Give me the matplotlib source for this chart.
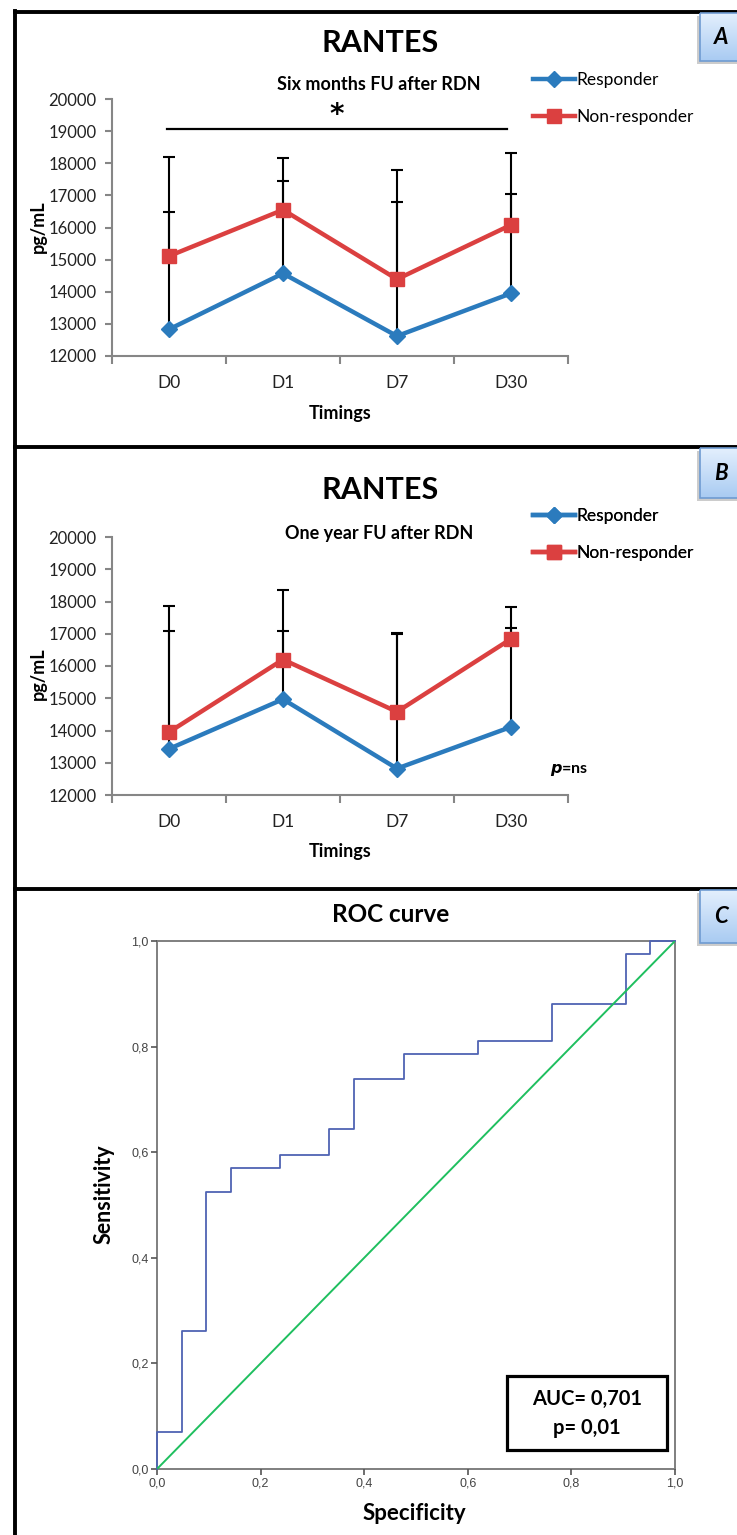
import matplotlib.pyplot as plt
import numpy as np
from matplotlib.patches import Rectangle
from matplotlib.colors import LinearSegmentedColormap
from matplotlib.ticker import FuncFormatter

plt.rcParams['font.family'] = ['Lato', 'DejaVu Sans']

# RANTES (pg/mL) at each sampling time, mean and upper SD
timings = ['D0', 'D1', 'D7', 'D30']

resp_6m = [12830, 14570, 12620, 13950]
resp_6m_sd = [3650, 2880, 4170, 3100]
nonresp_6m = [15110, 16550, 14390, 16080]
nonresp_6m_sd = [3090, 1620, 3400, 2250]

resp_1y = [13430, 14970, 12820, 14110]
resp_1y_sd = [3660, 2120, 4170, 3060]
nonresp_1y = [13950, 16200, 14580, 16840]
nonresp_1y_sd = [3900, 2170, 2430, 980]

# ROC curve corners (1 - specificity, sensitivity)
roc_fpr = [0.0, 0.0, 0.048, 0.095, 0.143, 0.238, 0.333, 0.381, 0.476, 0.619, 0.762, 0.905, 0.952, 1.0]
roc_tpr = [0.0, 0.071, 0.262, 0.524, 0.571, 0.595, 0.643, 0.738, 0.786, 0.810, 0.881, 0.976, 1.0, 1.0]
auc_label = 'AUC= 0,701'
p_label = 'p= 0,01'

W, H = 737, 1535
BLUE = '#2b7bbd'
RED = '#db4040'
GREY = '#868686'

fig = plt.figure(figsize=(W / 100, H / 100), dpi=100)


def px_axes(x0, y0, x1, y1):
    return fig.add_axes([x0 / W, 1 - y1 / H, (x1 - x0) / W, (y1 - y0) / H])


def rantes_panel(ax, resp, resp_sd, nonresp, nonresp_sd):
    x = np.arange(len(timings))
    for y, sd in [(resp, resp_sd), (nonresp, nonresp_sd)]:
        top = np.array(y) + np.array(sd)
        ax.vlines(x, y, top, color='black', lw=1.5, zorder=2)
        ax.plot(x, top, ls='none', marker='_', ms=9, mew=1.5, color='black', zorder=2)
    l1, = ax.plot(x, resp, color=BLUE, lw=3.2, marker='D', ms=8.5, zorder=3, label='Responder')
    l2, = ax.plot(x, nonresp, color=RED, lw=3.2, marker='s', ms=10, zorder=4, label='Non-responder')
    ax.set_xlim(-0.5, 3.5)
    ax.set_ylim(12000, 20000)
    ax.set_yticks(np.arange(12000, 20001, 1000))
    ax.set_xticks([-0.5, 0.5, 1.5, 2.5, 3.5])
    ax.set_xticklabels([])
    ax.set_xticks(x, minor=True)
    ax.set_xticklabels(timings, minor=True)
    ax.tick_params(axis='x', which='major', length=6, width=1.5, color=GREY)
    ax.tick_params(axis='x', which='minor', length=0, pad=14, labelsize=12.5, labelcolor='#222222')
    ax.tick_params(axis='y', length=5, width=1.5, color=GREY, labelsize=12, labelcolor='#222222', pad=6)
    for s in ['top', 'right']:
        ax.spines[s].set_visible(False)
    for s in ['left', 'bottom']:
        ax.spines[s].set_color(GREY)
        ax.spines[s].set_linewidth(1.5)
    ax.set_facecolor('none')
    return [l1, l2]


# Panel A: six months follow-up
axA = px_axes(112, 99, 568, 356)
handlesA = rantes_panel(axA, resp_6m, resp_6m_sd, nonresp_6m, nonresp_6m_sd)
axA.plot([-0.02, 2.965], [19070, 19070], color='black', lw=1.6)
axA.text(1.47, 19500, '*', ha='center', va='center', fontsize=20, fontweight='bold',
         family='DejaVu Sans')

# Panel B: one year follow-up
axB = px_axes(112, 537, 568, 795)
handlesB = rantes_panel(axB, resp_1y, resp_1y_sd, nonresp_1y, nonresp_1y_sd)

# Panel C: ROC curve
axC = px_axes(157, 941, 675, 1469)
axC.plot(roc_fpr, roc_tpr, drawstyle='steps-post', color='#4f63b3', lw=1.3, clip_on=False)
axC.plot([0, 1], [0, 1], color='#1fbf5f', lw=1.4)
axC.set_xlim(0, 1)
axC.set_ylim(0, 1)
ticks = np.arange(0, 1.01, 0.2)
axC.set_xticks(ticks)
axC.set_yticks(ticks)
comma = FuncFormatter(lambda v, p: f'{v:.1f}'.replace('.', ','))
axC.xaxis.set_major_formatter(comma)
axC.yaxis.set_major_formatter(comma)
axC.tick_params(length=4, width=1.2, color='#555555', labelsize=9, labelcolor='#444444', pad=2)
for lab in axC.get_xticklabels() + axC.get_yticklabels():
    lab.set_family('Liberation Sans')
for s in axC.spines.values():
    s.set_color('#7f7f7f')
    s.set_linewidth(1.4)
    s.set_zorder(1)

# Overlay in pixel units for frames, titles and labels
ov = fig.add_axes([0, 0, 1, 1], zorder=10)
ov.set_xlim(0, W)
ov.set_ylim(H, 0)
ov.axis('off')

# panel frames
ov.plot([15, 15], [11, H], color='black', lw=2.8, solid_capstyle='projecting')
for yb in [12, 447, 889]:
    ov.plot([15, W], [yb, yb], color='black', lw=2.8, solid_capstyle='projecting')

# panel letters
grad = np.linspace(0, 1, 50).reshape(-1, 1)
cmap = LinearSegmentedColormap.from_list('lbl', ['#e3effd', '#a9cbf2'])
for letter, yt, yb in [('A', 13, 61), ('B', 448, 498), ('C', 890, 943)]:
    ov.add_patch(Rectangle((697, yt + 3), 45, yb - yt, color='#9a9a9a', alpha=0.5, lw=0))
    ov.imshow(grad, extent=[700, 742, yb, yt], cmap=cmap, aspect='auto', zorder=2)
    ov.add_patch(Rectangle((700, yt), 42, yb - yt, fill=False, ec='#6f9bd2', lw=1.2, zorder=3))
    ov.text(721, (yt + yb) / 2, letter, ha='center', va='center', fontsize=16,
            fontweight='bold', style='italic', zorder=4)
ov.set_xlim(0, W)
ov.set_ylim(H, 0)

# RANTES panel texts
for (ytitle, ysub, sub, ylab, yleg, hands) in [
        (43, 84, 'Six months FU after RDN', 414, 72, handlesA),
        (490, 534, 'One year FU after RDN', 851, 508, handlesB)]:
    ov.text(380, ytitle, 'RANTES', ha='center', va='center', fontsize=22, fontweight='bold')
    ov.text(379, ysub, sub, ha='center', va='center', fontsize=13, fontweight='bold')
    ov.text(340, ylab, 'Timings', ha='center', va='center', fontsize=13, fontweight='bold')
    ov.text(38, (ytitle + 184), 'pg/mL', ha='center', va='center', rotation=90,
            fontsize=13, fontweight='bold')
    ov.legend(hands, [h.get_label() for h in hands], loc='upper left',
              bbox_to_anchor=(533, yleg), bbox_transform=ov.transData,
              frameon=False, borderpad=0, borderaxespad=0, handlelength=2.4,
              handletextpad=0.1, labelspacing=1.2, fontsize=12.5)
    ov.add_artist(ov.get_legend())

ov.text(569, 770, r'$\boldsymbol{p}$=ns', ha='center', va='center', fontsize=11.5, fontweight='bold')

# ROC texts
ov.text(391, 915, 'ROC curve', ha='center', va='center', fontsize=17.5, fontweight='bold')
ov.text(104, 1194, 'Sensitivity', ha='center', va='center', rotation=90, fontsize=15.5, fontweight='bold')
ov.text(414, 1513, 'Specificity', ha='center', va='center', fontsize=16, fontweight='bold')
ov.add_patch(Rectangle((507, 1376), 160, 74, fc='white', ec='black', lw=2.3))
ov.text(587, 1399, auc_label, ha='center', va='center', fontsize=14.5, fontweight='bold')
ov.text(587, 1428, p_label, ha='center', va='center', fontsize=14.5, fontweight='bold')

fig.savefig('out.png', dpi=100, facecolor='white')
